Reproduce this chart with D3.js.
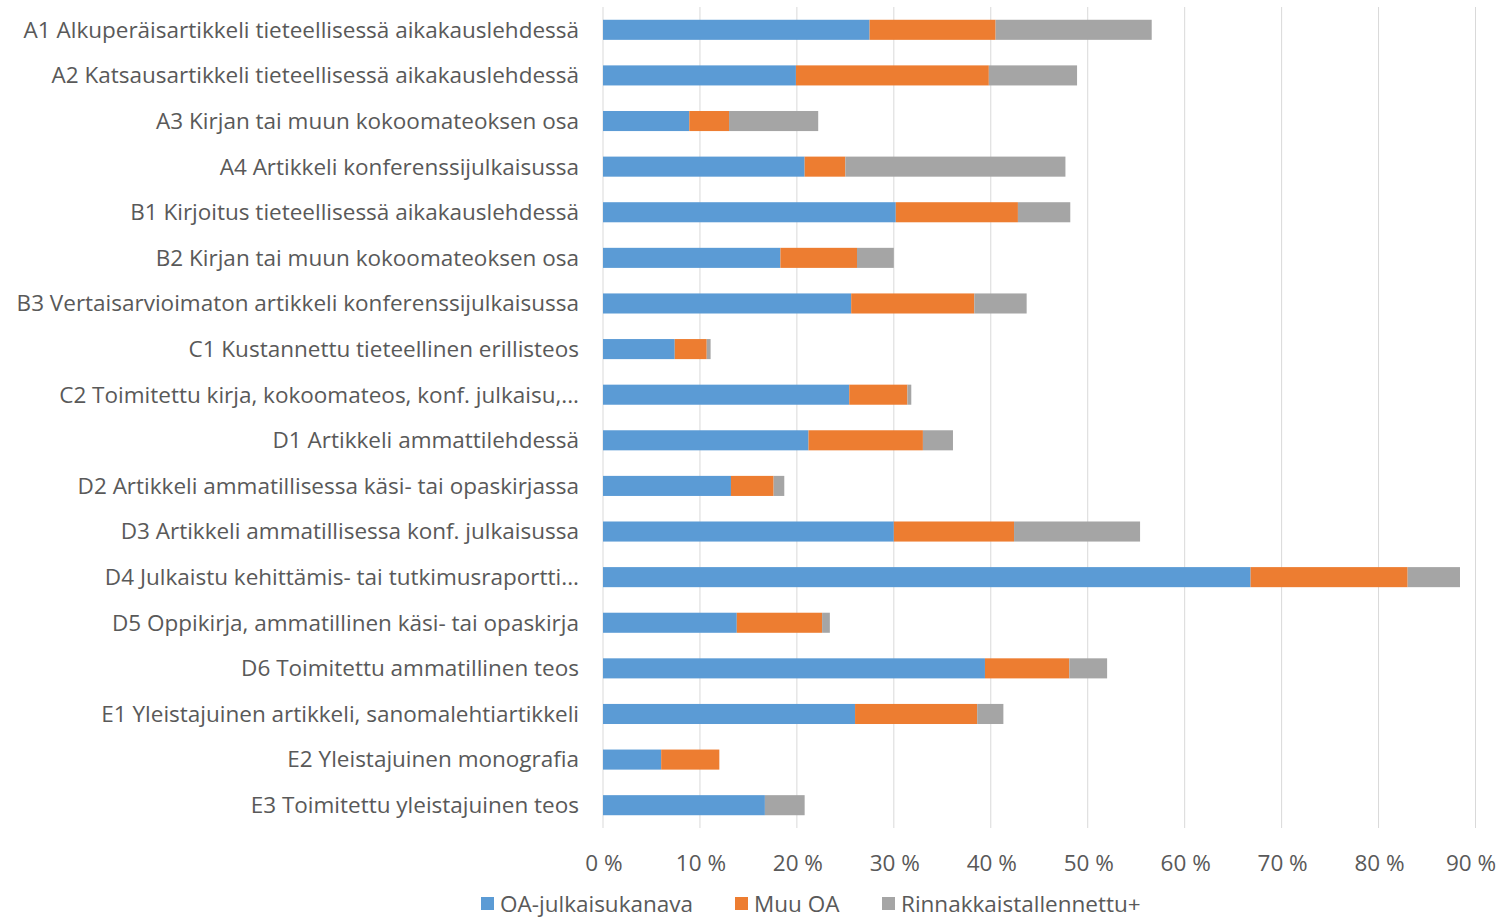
<!DOCTYPE html>
<html>
<head>
<meta charset="utf-8">
<script src="https://cdn.jsdelivr.net/npm/d3@7"></script>
<style>
    body { margin: 0; background: #fff; }
    svg text { font-family: "Open Sans", "Noto Sans", sans-serif; fill: #595959; }
</style>
</head>
<body>
<div id="chart"></div>
<script>
// luokat (julkaisutyypit)
const categories = [
    'A1 Alkuperäisartikkeli tieteellisessä aikakauslehdessä',
    'A2 Katsausartikkeli tieteellisessä aikakauslehdessä',
    'A3 Kirjan tai muun kokoomateoksen osa',
    'A4 Artikkeli konferenssijulkaisussa',
    'B1 Kirjoitus tieteellisessä aikakauslehdessä',
    'B2 Kirjan tai muun kokoomateoksen osa',
    'B3 Vertaisarvioimaton artikkeli konferenssijulkaisussa',
    'C1 Kustannettu tieteellinen erillisteos',
    'C2 Toimitettu kirja, kokoomateos, konf. julkaisu,...',
    'D1 Artikkeli ammattilehdessä',
    'D2 Artikkeli ammatillisessa käsi- tai opaskirjassa',
    'D3 Artikkeli ammatillisessa konf. julkaisussa',
    'D4 Julkaistu kehittämis- tai tutkimusraportti...',
    'D5 Oppikirja, ammatillinen käsi- tai opaskirja',
    'D6 Toimitettu ammatillinen teos',
    'E1 Yleistajuinen artikkeli, sanomalehtiartikkeli',
    'E2 Yleistajuinen monografia',
    'E3 Toimitettu yleistajuinen teos'
];

// sarjat (%)
const seriesNames = ['OA-julkaisukanava', 'Muu OA', 'Rinnakkaistallennettu+'];
const oaKanava = [27.5, 19.9, 8.9, 20.8, 30.2, 18.3, 25.6, 7.4, 25.4, 21.2, 13.2, 30.0, 66.8, 13.8, 39.4, 26.0, 6.0, 16.7];
const muuOA    = [13.0, 19.9, 4.1, 4.2, 12.6, 7.9, 12.7, 3.3, 6.0, 11.8, 4.4, 12.4, 16.2, 8.8, 8.7, 12.6, 6.0, 0];
const rinnakk  = [16.1, 9.1, 9.2, 22.7, 5.4, 3.8, 5.4, 0.4, 0.4, 3.1, 1.1, 13.0, 5.4, 0.8, 3.9, 2.7, 0, 4.1];
const xTicks = [0, 10, 20, 30, 40, 50, 60, 70, 80, 90];

const colors = ['#5B9BD5', '#ED7D31', '#A5A5A5'];

const WIDTH = 1500;
const HEIGHT = 921;
const FONT_SIZE = 22.5;
const margin = { top: 7, right: 25, bottom: 93, left: 603 };

const svg = d3.select('#chart').append('svg')
    .attr('width', WIDTH)
    .attr('height', HEIGHT);

const plotH = HEIGHT - margin.top - margin.bottom;

const x = d3.scaleLinear().domain([0, 90]).range([0, 872.5]);
const y = d3.scaleBand().domain(categories).range([0, plotH]).paddingInner(0.56).paddingOuter(0.28);

const g = svg.append('g').attr('transform', `translate(${margin.left},${margin.top})`);

// ruudukko
g.selectAll('.grid').data(xTicks).enter().append('line')
    .attr('x1', d => x(d)).attr('x2', d => x(d))
    .attr('y1', 0).attr('y2', plotH)
    .attr('stroke', '#D9D9D9').attr('stroke-width', 1);

// pinotut palkit
const rows = categories.map((c, i) => ({ cat: c, s0: oaKanava[i], s1: muuOA[i], s2: rinnakk[i] }));
const stack = d3.stack().keys(['s0', 's1', 's2'])(rows);

g.selectAll('.series').data(stack).enter().append('g')
    .attr('fill', (d, i) => colors[i])
    .selectAll('rect').data(d => d).enter().append('rect')
    .attr('x', d => x(d[0]))
    .attr('width', d => x(d[1]) - x(d[0]))
    .attr('y', d => y(d.data.cat))
    .attr('height', y.bandwidth());

// y-akselin nimikkeet
g.selectAll('.ylab').data(categories).enter().append('text')
    .attr('x', -24)
    .attr('y', d => y(d) + y.bandwidth() / 2)
    .attr('dy', '0.35em')
    .attr('text-anchor', 'end')
    .attr('font-size', FONT_SIZE)
    .text(d => d);

// x-akselin nimikkeet (viimeinen ei saa mennä reunan yli)
g.selectAll('.xlab').data(xTicks).enter().append('text')
    .attr('x', d => Math.min(x(d) + 1, WIDTH - margin.left - 29))
    .attr('y', plotH + 35)
    .attr('dy', '0.35em')
    .attr('text-anchor', 'middle')
    .attr('font-size', FONT_SIZE)
    .text(d => d + ' %');

// selite
const legendX = [481, 735, 882];
const legend = svg.selectAll('.legend').data(seriesNames).enter().append('g')
    .attr('transform', (d, i) => `translate(${legendX[i]},904)`);
legend.append('rect')
    .attr('x', 0).attr('y', -7).attr('width', 13).attr('height', 13)
    .attr('fill', (d, i) => colors[i]);
legend.append('text')
    .attr('x', 19).attr('y', 0).attr('dy', '0.35em')
    .attr('font-size', FONT_SIZE)
    .text(d => d);
</script>
</body>
</html>
